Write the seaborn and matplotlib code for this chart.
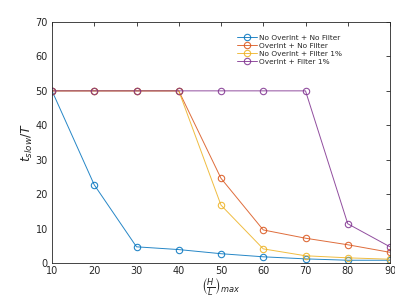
import matplotlib
matplotlib.use("Agg")
import matplotlib.pyplot as plt
import seaborn as sns
import pandas as pd

# H/L max values
hl = [10, 20, 30, 40, 50, 60, 70, 80, 90]
no_overint_no_filter = [50, 22.7, 4.7, 3.9, 2.7, 1.8, 1.2, 0.8, 0.8]
overint_no_filter = [50, 50, 50, 50, 24.6, 9.6, 7.2, 5.3, 3.1]
no_overint_filter1 = [50, 50, 50, 50, 16.8, 4.1, 2.1, 1.5, 1.1]
overint_filter1 = [50, 50, 50, 50, 50, 50, 50, 11.4, 4.7]

names = ["No OverInt + No Filter", "OverInt + No Filter",
         "No OverInt + Filter 1%", "OverInt + Filter 1%"]
series = [no_overint_no_filter, overint_no_filter, no_overint_filter1, overint_filter1]
colors = ["#0072BD", "#D95319", "#EDB120", "#7E2F8E"]

sns.set_style("white")
plt.rcParams["font.family"] = ["DejaVu Sans"]

fig = plt.figure(figsize=(3.95, 2.96), dpi=100)
ax = fig.add_axes([52/395, 1-263/296, (390-52)/395, (263-22)/296])

for name, vals, c in zip(names, series, colors):
    df = pd.DataFrame({"x": hl, "y": vals})
    sns.lineplot(data=df, x="x", y="y", ax=ax, color=c, marker="o",
                 markersize=4.6, markerfacecolor="none", markeredgecolor=c,
                 markeredgewidth=0.8, linewidth=0.7, alpha=0.85, label=name)

for line in ax.lines:
    line.set_markerfacecolor("none")

ax.set_xlim(10, 90)
ax.set_ylim(0, 70)
ax.set_xticks(range(10, 91, 10))
ax.set_yticks(range(0, 71, 10))
ax.tick_params(direction="in", length=3, width=0.6, labelsize=7, pad=3,
               colors="#262626", top=True, right=True, labeltop=False, labelright=False)
ax.tick_params(axis="x", pad=2)
for s in ax.spines.values():
    s.set_color("#262626")
    s.set_linewidth(0.6)

ax.set_xlabel(r"$\left(\frac{H}{L}\right)_{max}$", fontsize=8.5, color="#262626")
ax.xaxis.set_label_coords(0.5, -0.098)
ax.xaxis.label.set_va("center")
ax.set_ylabel(r"$t_{slow}/T$", fontsize=9, color="#262626")
ax.yaxis.set_label_coords(-0.05, 0.5)

leg = ax.legend(loc="upper left", bbox_to_anchor=(0.54, 0.96), frameon=False,
                fontsize=5.3, handlelength=2.6, handletextpad=0.3,
                labelspacing=0.25, borderaxespad=0.0)

fig.savefig("out.png", dpi=100)
